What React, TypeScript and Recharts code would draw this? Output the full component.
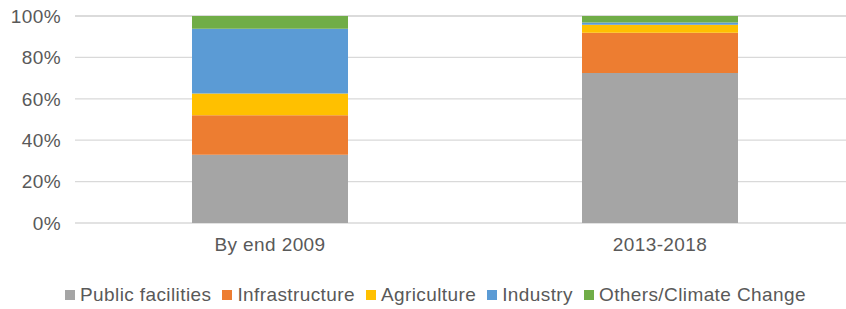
import { Bar, BarChart, CartesianGrid, XAxis, YAxis } from "recharts";

const periods = ["By end 2009", "2013-2018"];
const publicFacilities = [33, 72.5];
const infrastructure = [19, 19.4];
const agriculture = [10.6, 3.9];
const industry = [31.2, 1];
const others = [6.2, 3.2];
const yTicks = [0, 20, 40, 60, 80, 100];

const series = [
  { key: "publicFacilities", name: "Public facilities", color: "#A5A5A5" },
  { key: "infrastructure", name: "Infrastructure", color: "#ED7D31" },
  { key: "agriculture", name: "Agriculture", color: "#FFC000" },
  { key: "industry", name: "Industry", color: "#5B9BD5" },
  { key: "others", name: "Others/Climate Change", color: "#70AD47" },
];

const data = periods.map((p, i) => ({
  period: p,
  publicFacilities: publicFacilities[i],
  infrastructure: infrastructure[i],
  agriculture: agriculture[i],
  industry: industry[i],
  others: others[i],
}));

const FONT = "'Liberation Sans', Arial, sans-serif";
const TEXT = "#595959";
const tickStyle = { fill: TEXT, fontSize: 19, fontFamily: FONT, letterSpacing: 0.4 };

export default function App() {
  return (
    <div
      style={{
        position: "absolute",
        top: 0,
        left: 0,
        width: 846,
        height: 309,
        overflow: "hidden",
        background: "#fff",
        fontFamily: FONT,
      }}
    >
      <BarChart
        width={870}
        height={270}
        data={data}
        margin={{ top: 16, right: 15, left: 0, bottom: 0 }}
      >
        <CartesianGrid vertical={false} stroke="#D9D9D9" strokeWidth={1.3} />
        <XAxis
          dataKey="period"
          height={47}
          axisLine={false}
          tickLine={false}
          tickMargin={9}
          tick={tickStyle}
        />
        <YAxis
          width={75}
          domain={[0, 100]}
          ticks={yTicks}
          axisLine={false}
          tickLine={false}
          tickMargin={8}
          tickFormatter={(v) => `${v}%`}
          tick={tickStyle}
        />
        {series.map((s) => (
          <Bar
            key={s.key}
            dataKey={s.key}
            name={s.name}
            stackId="a"
            fill={s.color}
            barSize={156}
            isAnimationActive={false}
          />
        ))}
      </BarChart>
      <div
        style={{
          position: "absolute",
          top: 284,
          left: 65,
          display: "flex",
          alignItems: "center",
          fontSize: 19,
          letterSpacing: 0.4,
          color: TEXT,
          whiteSpace: "nowrap",
          lineHeight: "22px",
        }}
      >
        {series.map((s) => (
          <div key={s.key} style={{ display: "flex", alignItems: "center", marginRight: 11 }}>
            <span style={{ width: 10, height: 10, background: s.color, marginRight: 5 }} />
            <span>{s.name}</span>
          </div>
        ))}
      </div>
    </div>
  );
}
